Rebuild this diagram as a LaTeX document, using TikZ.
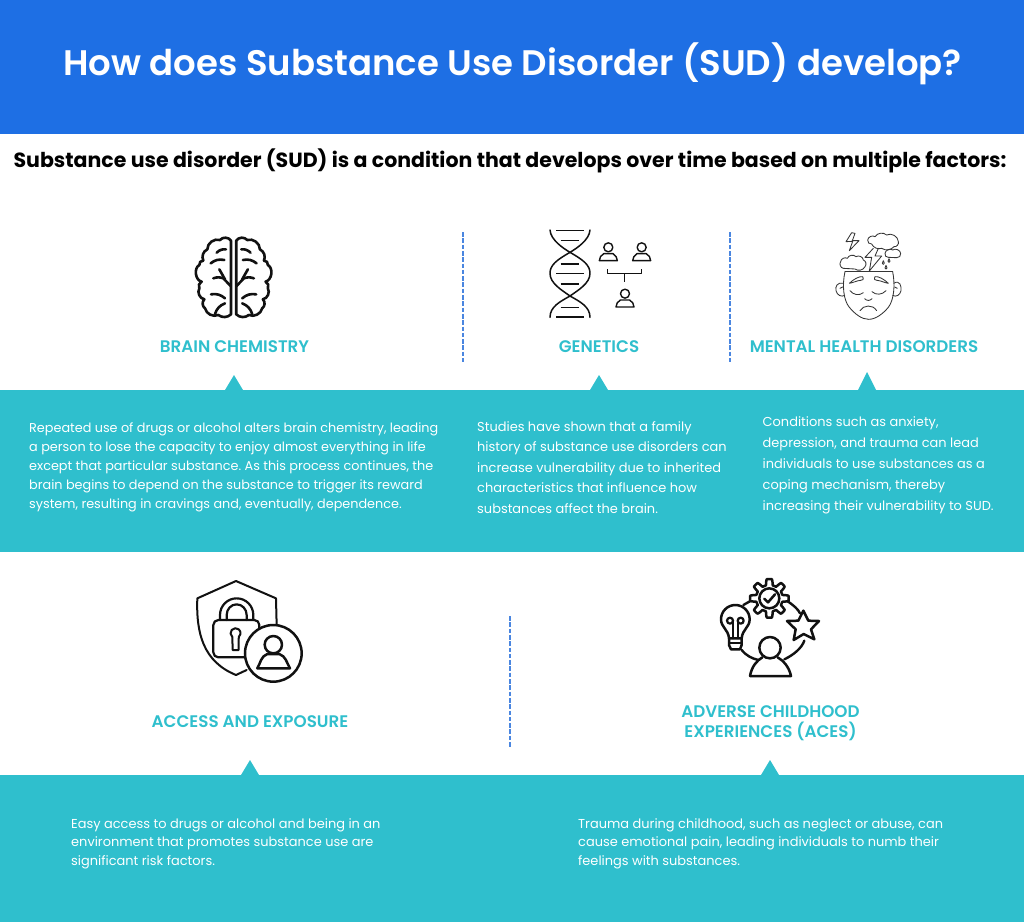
\documentclass[tikz,border=0pt]{standalone}
\usepackage{fontspec}
\setmainfont{Poppins}
\newfontfamily\semi{Poppins SemiBold}
\newfontfamily\boldf{Poppins}[UprightFont=* Bold]
\definecolor{hdr}{HTML}{1E6FE4}
\definecolor{teal}{HTML}{2FBFCD}
\definecolor{dashc}{HTML}{4A86E0}
\definecolor{ink}{HTML}{111111}
\frenchspacing
\tikzset{
  band/.style={fill=teal,draw=none},
  tip/.style={fill=teal,draw=none},
  sep/.style={draw=dashc,line width=1.7pt,dash pattern=on 4.6pt off 1.7pt},
  heading/.style={text=teal,font=\semi\fontsize{16.75}{20.5}\selectfont,align=center,inner sep=0pt},
  body/.style={text=white,align=left,anchor=north west,inner sep=0pt},
  zoomed/.style={x=0.3333pt,y=-0.3333pt},
  icon/.style={draw=ink,line join=round,line cap=round,line width=#1},
  icon/.default=1.6pt,
  bo/.style={bend right=#1},
  bi/.style={bend left=#1}
}
\newcommand{\halfbrain}{%
  \draw[icon=2.6pt] (183,62) to[bo=55] (150,60) to[bo=55] (112,88)
    to[bo=45] (100,122) to[bo=60] (88,135) to[bo=70] (95,185)
    to[bo=50] (88,205) to[bo=55] (103,238) to[bo=50] (105,265)
    to[bo=50] (145,285) to[bo=40] (183,283) -- cycle;
  \draw[icon=2.6pt] (140,98) to[bi=25] (168,88);
  \draw[icon=2.6pt] (122,130) to[bi=25] (163,120);
  \draw[icon=2.6pt] (130,175) to[bi=20] (160,175) -- (182,198);
  \draw[icon=2.6pt] (148,148) -- (165,178);
  \draw[icon=2.6pt] (123,223) to[bi=25] (165,235);
  \draw[icon=2.6pt] (135,282) to[bi=25] (165,250);
}
\newcommand{\personicon}[2]{%
  \draw[icon=1.4pt] (#1,#2) circle (13.5);
  \draw[icon=1.4pt] (#1-27,#2+40) to[out=90,in=215] (#1-14,#2+19) -- (#1+14,#2+19)
     to[out=-35,in=90] (#1+27,#2+40) -- cycle;
}
\begin{document}
\begin{tikzpicture}[x=1pt,y=-1pt]
\useasboundingbox (0,0) rectangle (1024,922);
\fill[white] (0,0) rectangle (1024,922);
\fill[hdr] (0,0) rectangle (1024,134);
\node[text=white,font=\semi\fontsize{35.5}{40}\selectfont,inner sep=0pt] (title) at (512.5,64) {How does Substance Use Disorder (SUD) develop?};
\node[text=black,font=\boldf\fontsize{20.5}{26}\selectfont,inner sep=0pt] (sub) at (510,161) {Substance use disorder (SUD) is a condition that develops over time based on multiple factors:};

% bands
\fill[band] (0,389.5) rectangle (1024,552);
\fill[band] (0,775) rectangle (1024,922);
\fill[tip] (225,390) -- (234,375) -- (243,390) -- cycle;
\fill[tip] (590,390) -- (599,375) -- (608,390) -- cycle;
\fill[tip] (858,390) -- (867,372) -- (876,390) -- cycle;
\fill[tip] (241,775) -- (250,760) -- (259,775) -- cycle;
\fill[tip] (761,775) -- (770,760) -- (779,775) -- cycle;

% separators
\coordinate (s1a) at (463,232); \coordinate (s1b) at (463,362);
\coordinate (s2a) at (730,232); \coordinate (s2b) at (730,362);
\coordinate (s3a) at (510,616); \coordinate (s3b) at (510,748);
\draw[sep] (s1a) -- (s1b);
\draw[sep] (s2a) -- (s2b);
\draw[sep] (s3a) -- (s3b);

% headings
\node[heading] (h1) at (234.5,346.5) {BRAIN CHEMISTRY};
\node[heading] (h2) at (599,346.5) {GENETICS};
\node[heading] (h3) at (864,346.5) {MENTAL HEALTH DISORDERS};
\node[heading] (h4) at (250,722) {ACCESS AND EXPOSURE};
\node[heading] (h5) at (770.5,723) {ADVERSE CHILDHOOD\\EXPERIENCES (ACES)};

% body
\node[body,font=\fontsize{12.8}{19}\selectfont] (b1) at (29,423) {Repeated use of drugs or alcohol alters brain chemistry, leading\\a person to lose the capacity to enjoy almost everything in life\\except that particular substance. As this process continues, the\\brain begins to depend on the substance to trigger its reward\\system, resulting in cravings and, eventually, dependence.};
\node[body,font=\fontsize{12.95}{20.5}\selectfont] (b2) at (477,421) {Studies have shown that a family\\history of substance use disorders can\\increase vulnerability due to inherited\\characteristics that influence how\\substances affect the brain.};
\node[body,font=\fontsize{12.95}{21.2}\selectfont] (b3) at (762.5,416) {Conditions such as anxiety,\\depression, and trauma can lead\\individuals to use substances as a\\coping mechanism, thereby\\increasing their vulnerability to SUD.};
\node[body,font=\fontsize{12.95}{18.7}\selectfont] (b4) at (71,818) {Easy access to drugs or alcohol and being in an\\environment that promotes substance use are\\significant risk factors.};
\node[body,font=\fontsize{12.95}{18.7}\selectfont] (b5) at (578,818) {Trauma during childhood, such as neglect or abuse, can\\cause emotional pain, leading individuals to numb their\\feelings with substances.};

% brain
\begin{scope}[shift={(170,220)},zoomed]
  \halfbrain
\end{scope}
\begin{scope}[shift={(297.2,220)},x=-0.3333pt,y=-0.3333pt,bo/.style={bend left=#1},bi/.style={bend right=#1}]
  \halfbrain
\end{scope}

% dna and people
\begin{scope}[shift={(530,220)},zoomed]
  \draw[icon=1.5pt] (60,30) .. controls (62,60) and (100,85) .. (120,97) .. controls (160,120) and (180,135) .. (180,160) .. controls (180,190) and (145,210) .. (120,228) .. controls (90,245) and (60,260) .. (60,292);
  \draw[icon=1.5pt] (180,30) .. controls (178,60) and (140,85) .. (120,97) .. controls (80,120) and (60,135) .. (60,160) .. controls (60,190) and (95,210) .. (120,228) .. controls (150,245) and (180,260) .. (180,292);
  \foreach \yy/\xa/\xb in {32/78/162,62/92/148,132/92/148,161/78/162,192/92/148,262/92/148,291/78/162}
    \draw[icon=1.5pt,line cap=butt] (\xa,\yy) -- (\xb,\yy);
  \personicon{235}{82}
  \personicon{335}{82}
  \personicon{285}{221}
  \draw[icon=1.4pt,line cap=butt] (233,147) -- (233,161) -- (335,161) -- (335,147);
  \draw[icon=1.4pt,line cap=butt] (284,161) -- (284,185);
\end{scope}

% mental health
\begin{scope}[shift={(820,220)},zoomed]
  \tikzset{thin ink/.style={draw=ink!85,line width=0.85pt,line join=round,line cap=round}}
  \draw[thin ink] (75,155) -- (218,155);
  \draw[thin ink] (75,155) .. controls (66,195) and (70,240) .. (88,262) .. controls (105,282) and (125,298) .. (146,298) .. controls (168,298) and (190,280) .. (205,262) .. controls (222,240) and (226,195) .. (218,155);
  \draw[thin ink] (71,190) .. controls (52,185) and (45,200) .. (48,212) .. controls (51,226) and (65,232) .. (74,226);
  \draw[thin ink] (221,190) .. controls (240,178) and (245,200) .. (243,212) .. controls (240,226) and (228,232) .. (218,226);
  \draw[thin ink] (60,205) -- (68,201); \draw[thin ink] (232,205) -- (224,201);
  \draw[thin ink] (88,190) .. controls (100,178) and (118,168) .. (128,170) .. controls (132,178) and (128,182) .. (122,181) .. controls (110,182) and (100,188) .. (88,190);
  \draw[thin ink] (205,190) .. controls (193,178) and (175,168) .. (165,170) .. controls (161,178) and (165,182) .. (171,181) .. controls (183,182) and (193,188) .. (205,190);
  \draw[thin ink] (90,212) .. controls (100,225) and (118,228) .. (130,218);
  \draw[thin ink] (156,215) .. controls (168,226) and (186,225) .. (198,212);
  \draw[thin ink] (134,236) .. controls (140,243) and (150,243) .. (156,236);
  \draw[thin ink] (120,272) .. controls (130,255) and (158,252) .. (170,272);
  % bolt alone
  \draw[thin ink] (95,38) -- (78,65) -- (98,64) -- (88,92) -- (117,62) -- (97,62) -- (105,40) -- cycle;
  % clouds
  \draw[thin ink] (70,145) to[bend left=60] (62,125) to[bend left=60] (82,115) to[bend left=60] (108,110) to[bend left=60] (130,120) to[bend left=60] (135,140) to[bend left=50] (105,147) -- (70,145);
  \draw[thin ink] (155,72) to[bend left=60] (143,60) to[bend left=60] (165,50) to[bend left=50] (200,45) to[bend left=60] (235,65) to[bend left=60] (222,80) to[bend left=40] (185,85) to[bend left=40] (155,72);
  \draw[thin ink] (205,112) to[bend left=60] (195,100) to[bend left=60] (218,90) to[bend left=60] (242,100) to[bend left=60] (230,113) -- cycle;
  % centre bolt
  \draw[thin ink] (160,85) -- (135,112) -- (155,112) -- (148,153) -- (185,108) -- (165,108) -- (175,85);
  % drops
  \foreach \dx/\dy in {190/128,207/122,198/142}
    \draw[thin ink] (\dx,\dy-6) .. controls (\dx-5,\dy) and (\dx-3,\dy+5) .. (\dx,\dy+5) .. controls (\dx+3,\dy+5) and (\dx+5,\dy) .. (\dx,\dy-6);
\end{scope}

% lock
\begin{scope}[shift={(180,570)},zoomed]
  \draw[icon=2pt] (290,165) -- (288,85) -- (168,33) -- (52,85) .. controls (48,190) and (70,275) .. (168,315) -- (200,300);
  \draw[icon=2.2pt,rounded corners=5pt,fill=white] (100,150) rectangle (238,262);
  \draw[icon=2.2pt] (120,150) -- (120,135) arc[start angle=180,end angle=360,x radius=50,y radius=50] -- (220,150);
  \draw[icon=2.2pt] (140,150) -- (140,135) arc[start angle=180,end angle=360,x radius=30,y radius=32] -- (200,150);
  \draw[icon=2pt] (157,201) arc[start angle=130,end angle=410,radius=15] -- (176,240) -- (158,240) -- cycle;
  \draw[icon=2.5pt,fill=white] (280,250) circle (85);
  \draw[icon=2.5pt] (280,224) circle (26);
  \draw[icon=2.5pt] (232,295) to[out=60,in=200] (262,252) -- (298,252) to[out=-20,in=120] (330,295) -- cycle;
\end{scope}

% ACE
\begin{scope}[shift={(705,570)},zoomed]
  \draw[icon=2.4pt] (110,240) .. controls (125,258) and (140,265) .. (160,270);
  \draw[icon=2.4pt] (238,268) .. controls (265,255) and (290,235) .. (298,212);
  \draw[icon=2.4pt] (115,105) -- (145,88);
  \draw[icon=2.4pt] (245,92) .. controls (265,105) and (280,118) .. (285,130);
  \draw[icon=2.5pt,fill=white] plot[domain=0:360,samples=241,smooth] ({193+(49+9*max(min(2.2*cos(8*\x),1),-1))*cos(\x)},{85+(49+9*max(min(2.2*cos(8*\x),1),-1))*sin(\x)}) -- cycle;
  \draw[icon=2.5pt] (193,85) circle (30);
  \draw[icon=2.5pt] (178,86) -- (189,97) -- (210,73);
  % bulb
  \draw[icon=2.5pt,fill=white] (72,205) .. controls (70,178) and (48,172) .. (48,148) arc[start angle=180,end angle=360,radius=43] .. controls (134,172) and (112,178) .. (110,205) -- cycle;
  \draw[icon=2.5pt] (72,205) -- (72,225) -- (78,238) -- (105,238) -- (110,225) -- (110,205);
  \draw[icon=2pt] (74,218) -- (108,218);
  \draw[icon=2.2pt] (75,152) circle (9);
  \draw[icon=2.2pt] (107,152) circle (9);
  \draw[icon=2.2pt] (84,152) -- (84,205);
  \draw[icon=2.2pt] (98,152) -- (98,205);
  % star
  \draw[icon=2.5pt,fill=white] (295,122) -- (310,152) -- (342,153) -- (318,178) -- (328,208) -- (296,192) -- (266,210) -- (272,178) -- (246,153) -- (280,152) -- cycle;
  % person
  \draw[icon=2.5pt,fill=white] (195,233) circle (32);
  \draw[icon=2.5pt] (135,318) .. controls (140,290) and (155,272) .. (172,262);
  \draw[icon=2.5pt] (218,262) .. controls (235,272) and (252,290) .. (258,318) -- (135,318);
\end{scope}
\end{tikzpicture}
\end{document}
